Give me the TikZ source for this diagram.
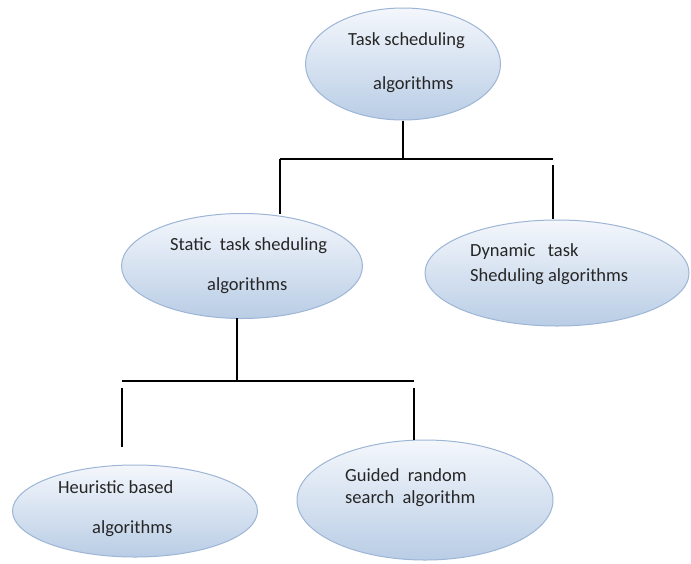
\documentclass[tikz,border=0pt]{standalone}
\usepackage{fontspec}
\setmainfont{Carlito}
\usetikzlibrary{shapes.geometric}
\definecolor{bubbletop}{HTML}{F4F7FC}
\definecolor{bubblebot}{HTML}{B9CDE5}
\definecolor{bubbleedge}{HTML}{9DB5D6}
\begin{document}
\begin{tikzpicture}[x=1pt,y=-1pt,
  bubble/.style={ellipse, draw=bubbleedge, line width=1pt,
    top color=bubbletop, bottom color=bubblebot, inner sep=0pt},
  lbl/.style={font=\fontsize{18.5}{20}\selectfont, text=black!85,
    inner sep=0pt, anchor=mid west},
  wire/.style={line width=2.4pt, black}]
\useasboundingbox[fill=white] (0,0) rectangle (691,563);

% ellipses
\node[bubble, minimum width=195, minimum height=112] (root) at (403,64) {};
\node[bubble, minimum width=241, minimum height=105] (static) at (242,266) {};
\node[bubble, minimum width=264, minimum height=106] (dynamic) at (557,273) {};
\node[bubble, minimum width=245, minimum height=92] (heur) at (135,511) {};
\node[bubble, minimum width=256, minimum height=120] (guided) at (425,500) {};

% labels
\node[lbl] (t1a) at (348,43) {Task scheduling};
\node[lbl] (t1b) at (373,87) {algorithms};
\node[lbl] (t2a) at (170,248) {Static\ \ task sheduling};
\node[lbl] (t2b) at (207,288) {algorithms};
\node[lbl] (t3a) at (470,254) {Dynamic\ \ \ task};
\node[lbl] (t3b) at (470,279) {Sheduling algorithms};
\node[lbl] (t4a) at (58,491) {Heuristic based};
\node[lbl] (t4b) at (92,531) {algorithms};
\node[lbl] (t5a) at (345,479) {Guided\ \ random};
\node[lbl] (t5b) at (345,501) {search\ \ algorithm};

% upper tree
\coordinate (j1) at (403,159);
\coordinate (j1l) at (280,159);
\coordinate (j1r) at (553,159);
\coordinate (s1) at (280,214);
\coordinate (r1a) at (553,165);
\coordinate (r1b) at (553,219);
\draw[wire] (root.south) -- (j1);
\draw[wire] (j1l) -- (j1r);
\draw[wire] (j1l) -- (s1);
\draw[wire] (r1a) -- (r1b);

% lower tree
\coordinate (j2) at (237,381);
\coordinate (j2l) at (122,381);
\coordinate (j2r) at (414,381);
\coordinate (l2a) at (122,388);
\coordinate (l2b) at (122,447);
\coordinate (g2a) at (414,388);
\coordinate (g2b) at (414,440);
\draw[wire] (237,318) -- (j2);
\draw[wire] (j2l) -- (j2r);
\draw[wire] (l2a) -- (l2b);
\draw[wire] (g2a) -- (g2b);
\end{tikzpicture}
\end{document}
